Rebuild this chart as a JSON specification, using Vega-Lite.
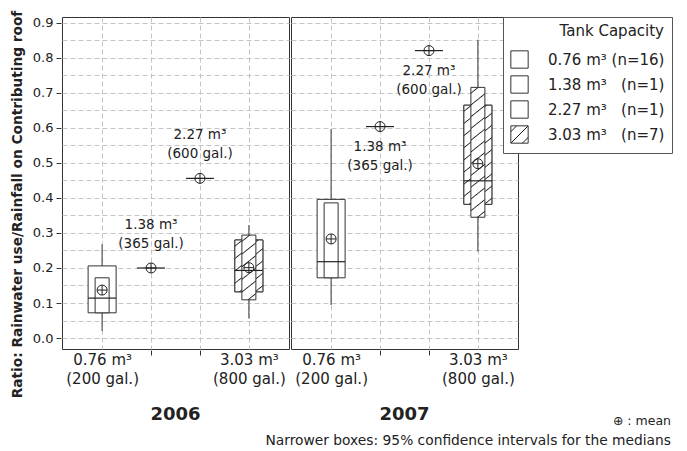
{
  "$schema": "https://vega.github.io/schema/vega-lite/v6.json",
  "padding": {"left": 10, "top": 10, "right": 0, "bottom": 0},
  "background": "white",
  "data": {"values": [
    {"year": "2006", "tank": "0.76", "lo": 0.02, "q1": 0.072, "med": 0.114, "q3": 0.206, "hi": 0.268, "cil": 0.072, "cih": 0.172, "mean": 0.137},
    {"year": "2006", "tank": "1.38", "med": 0.2, "mean": 0.2, "label": "1.38 m³\n(365 gal.)"},
    {"year": "2006", "tank": "2.27", "med": 0.456, "mean": 0.456, "label": "2.27 m³\n(600 gal.)"},
    {"year": "2006", "tank": "3.03", "lo": 0.056, "q1": 0.132, "med": 0.193, "q3": 0.28, "hi": 0.323, "cil": 0.109, "cih": 0.294, "mean": 0.201},
    {"year": "2007", "tank": "0.76", "lo": 0.094, "q1": 0.172, "med": 0.218, "q3": 0.396, "hi": 0.597, "cil": 0.172, "cih": 0.386, "mean": 0.283},
    {"year": "2007", "tank": "1.38", "med": 0.604, "mean": 0.604, "label": "1.38 m³\n(365 gal.)"},
    {"year": "2007", "tank": "2.27", "med": 0.821, "mean": 0.821, "label": "2.27 m³\n(600 gal.)"},
    {"year": "2007", "tank": "3.03", "lo": 0.247, "q1": 0.382, "med": 0.449, "q3": 0.665, "hi": 0.852, "cil": 0.345, "cih": 0.716, "mean": 0.498}
  ]},
  "facet": {"column": {"field": "year", "type": "nominal", "title": null,
    "header": {"labelOrient": "bottom", "labelFontSize": 18, "labelFontWeight": "bold", "labelFont": "DejaVu Sans", "labelColor": "#222", "labelPadding": 20}}},
  "spacing": 0,
  "title": {"text": "⊕ : mean", "subtitle": "Narrower boxes: 95% confidence intervals for the medians", "orient": "bottom", "anchor": "end", "frame": "group", "dx": 609, "offset": -9, "font": "DejaVu Sans", "fontSize": 12.5, "fontWeight": "normal", "color": "#222", "subtitleFont": "DejaVu Sans", "subtitleFontSize": 13.8, "subtitleColor": "#222", "subtitlePadding": 6},
  "spec": {
    "width": 227,
    "height": 332,
    "encoding": {
      "x": {"field": "tank", "type": "nominal", "title": null,
        "scale": {"type": "point", "padding": 0.82, "domain": ["0.76", "1.38", "2.27", "3.03"]},
        "axis": {"labelAngle": 0, "domain": false, "grid": true, "gridDash": [5, 3], "gridColor": "#c4c4c4",
          "tickColor": "#333", "tickSize": 5, "labelOverlap": false,
          "tickOpacity": {"condition": {"test": "datum.value == '1.38' || datum.value == '2.27'", "value": 1}, "value": 0},
          "labelExpr": "datum.value == '0.76' ? ['0.76 m³', '(200 gal.)'] : datum.value == '3.03' ? ['3.03 m³', '(800 gal.)'] : ''",
          "labelFontSize": 15, "labelColor": "#222", "labelLineHeight": 19, "labelPadding": -3, "labelFont": "DejaVu Sans"}}
    },
    "layer": [
      {"mark": {"type": "rule", "stroke": "#555", "strokeWidth": 1.2},
       "encoding": {
         "y": {"field": "lo", "type": "quantitative", "title": "Ratio: Rainwater use/Rainfall on Contributing roof",
           "scale": {"domain": [-0.0314, 0.917], "nice": false, "zero": false},
           "axis": {"values": [0, 0.05, 0.1, 0.15, 0.2, 0.25, 0.3, 0.35, 0.4, 0.45, 0.5, 0.55, 0.6, 0.65, 0.7, 0.75, 0.8, 0.85, 0.9],
             "tickCount": 100,
             "labelExpr": "round(datum.value*100) % 10 == 0 ? format(datum.value, '.1f') : ''",
             "labelOverlap": false,
             "domain": false, "grid": true, "gridDash": [5, 3], "gridColor": "#c4c4c4",
             "tickColor": "#333", "tickSize": 5,
             "tickOpacity": {"condition": {"test": "round(datum.value*100) % 10 != 0", "value": 0}, "value": 1},
             "labelFontSize": 13, "labelColor": "#222", "labelPadding": 3, "labelFont": "DejaVu Sans",
             "titleFont": "DejaVu Sans", "titleFontSize": 13.7, "titleFontWeight": "bold", "titleColor": "#222", "titlePadding": 8, "titleY": 187}},
         "y2": {"field": "hi"}
       }},
      {"mark": {"type": "bar", "width": 28, "stroke": "#333", "strokeWidth": 1},
       "encoding": {
         "y": {"field": "q1", "type": "quantitative", "title": "Ratio: Rainwater use/Rainfall on Contributing roof"},
         "y2": {"field": "q3"},
         "fill": {"field": "tank", "type": "nominal",
           "scale": {"domain": ["0.76", "1.38", "2.27", "3.03"],
             "range": ["white", "white", "white", {"expr": "{gradient: 'linear', x1: 0, y1: 0, x2: 1, y2: 1, stops: [{offset: 0.137, color: 'white'}, {offset: 0.167, color: '#222'}, {offset: 0.197, color: 'white'}, {offset: 0.47, color: 'white'}, {offset: 0.5, color: '#222'}, {offset: 0.53, color: 'white'}, {offset: 0.803, color: 'white'}, {offset: 0.833, color: '#222'}, {offset: 0.863, color: 'white'}]}"}]},
           "legend": {"title": "Tank Capacity", "orient": "none", "legendX": 441, "legendY": 0,
             "labelExpr": "datum.value == '0.76' ? '0.76 m³ (n=16)' : datum.value == '1.38' ? '1.38 m³\u00a0\u00a0\u00a0(n=1)' : datum.value == '2.27' ? '2.27 m³\u00a0\u00a0\u00a0(n=1)' : '3.03 m³\u00a0\u00a0\u00a0(n=7)'",
             "symbolType": "square", "symbolSize": 300, "symbolStrokeColor": "#333", "symbolStrokeWidth": 1,
             "strokeColor": "#555", "fillColor": "white", "padding": 7, "titleAnchor": "end",
             "rowPadding": 2, "labelFontSize": 15, "titleFontSize": 15, "titleFontWeight": "normal",
             "labelFont": "DejaVu Sans", "titleFont": "DejaVu Sans", "labelColor": "#222", "titleColor": "#222", "labelOffset": 19, "titlePadding": 11}}
       }},
      {"transform": [{"filter": "datum.tank == '3.03' && datum.year == '2006'"}],
       "mark": {"type": "bar", "width": 28, "stroke": "#333", "strokeWidth": 1,
         "fill": {"gradient": "linear", "x1": 0, "y1": 0, "x2": 0.52, "y2": 1.206, "stops": [
           {"offset": 0.068, "color": "white"}, {"offset": 0.0833, "color": "#222"}, {"offset": 0.098, "color": "white"},
           {"offset": 0.235, "color": "white"}, {"offset": 0.25, "color": "#222"}, {"offset": 0.265, "color": "white"},
           {"offset": 0.402, "color": "white"}, {"offset": 0.4167, "color": "#222"}, {"offset": 0.432, "color": "white"},
           {"offset": 0.568, "color": "white"}, {"offset": 0.5833, "color": "#222"}, {"offset": 0.598, "color": "white"},
           {"offset": 0.735, "color": "white"}, {"offset": 0.75, "color": "#222"}, {"offset": 0.765, "color": "white"},
           {"offset": 0.902, "color": "white"}, {"offset": 0.9167, "color": "#222"}, {"offset": 0.932, "color": "white"}]}},
       "encoding": {
         "y": {"field": "q1", "type": "quantitative", "title": "Ratio: Rainwater use/Rainfall on Contributing roof"},
         "y2": {"field": "q3"}
       }},
      {"transform": [{"filter": "datum.tank == '3.03' && datum.year == '2007'"}],
       "mark": {"type": "bar", "width": 28, "stroke": "#333", "strokeWidth": 1,
         "fill": {"gradient": "linear", "x1": 0, "y1": 0, "x2": 0.264, "y2": 1.1665, "stops": [
           {"offset": 0.041, "color": "white"}, {"offset": 0.05, "color": "#222"}, {"offset": 0.059, "color": "white"},
           {"offset": 0.141, "color": "white"}, {"offset": 0.15, "color": "#222"}, {"offset": 0.159, "color": "white"},
           {"offset": 0.241, "color": "white"}, {"offset": 0.25, "color": "#222"}, {"offset": 0.259, "color": "white"},
           {"offset": 0.341, "color": "white"}, {"offset": 0.35, "color": "#222"}, {"offset": 0.359, "color": "white"},
           {"offset": 0.441, "color": "white"}, {"offset": 0.45, "color": "#222"}, {"offset": 0.459, "color": "white"},
           {"offset": 0.541, "color": "white"}, {"offset": 0.55, "color": "#222"}, {"offset": 0.559, "color": "white"},
           {"offset": 0.641, "color": "white"}, {"offset": 0.65, "color": "#222"}, {"offset": 0.659, "color": "white"},
           {"offset": 0.741, "color": "white"}, {"offset": 0.75, "color": "#222"}, {"offset": 0.759, "color": "white"},
           {"offset": 0.841, "color": "white"}, {"offset": 0.85, "color": "#222"}, {"offset": 0.859, "color": "white"},
           {"offset": 0.941, "color": "white"}, {"offset": 0.95, "color": "#222"}, {"offset": 0.959, "color": "white"}]}},
       "encoding": {
         "y": {"field": "q1", "type": "quantitative", "title": "Ratio: Rainwater use/Rainfall on Contributing roof"},
         "y2": {"field": "q3"}
       }},
      {"transform": [{"filter": "datum.tank != '3.03'"}],
       "mark": {"type": "bar", "width": 14, "stroke": "#333", "strokeWidth": 1, "fill": "white"},
       "encoding": {
         "y": {"field": "cil", "type": "quantitative", "title": "Ratio: Rainwater use/Rainfall on Contributing roof"},
         "y2": {"field": "cih"}
       }},
      {"transform": [{"filter": "datum.tank == '3.03' && datum.year == '2006'"}],
       "mark": {"type": "bar", "width": 14, "stroke": "#333", "strokeWidth": 1,
         "fill": {"gradient": "linear", "x1": 0, "y1": 0, "x2": 0.197, "y2": 1.139, "stops": [
           {"offset": 0.068, "color": "white"}, {"offset": 0.0833, "color": "#222"}, {"offset": 0.098, "color": "white"},
           {"offset": 0.235, "color": "white"}, {"offset": 0.25, "color": "#222"}, {"offset": 0.265, "color": "white"},
           {"offset": 0.402, "color": "white"}, {"offset": 0.4167, "color": "#222"}, {"offset": 0.432, "color": "white"},
           {"offset": 0.568, "color": "white"}, {"offset": 0.5833, "color": "#222"}, {"offset": 0.598, "color": "white"},
           {"offset": 0.735, "color": "white"}, {"offset": 0.75, "color": "#222"}, {"offset": 0.765, "color": "white"},
           {"offset": 0.902, "color": "white"}, {"offset": 0.9167, "color": "#222"}, {"offset": 0.932, "color": "white"}]}},
       "encoding": {
         "y": {"field": "cil", "type": "quantitative", "title": "Ratio: Rainwater use/Rainfall on Contributing roof"},
         "y2": {"field": "cih"}
       }},
      {"transform": [{"filter": "datum.tank == '3.03' && datum.year == '2007'"}],
       "mark": {"type": "bar", "width": 14, "stroke": "#333", "strokeWidth": 1,
         "fill": {"gradient": "linear", "x1": 0, "y1": 0, "x2": 0.093, "y2": 1.078, "stops": [
           {"offset": 0.0337, "color": "white"}, {"offset": 0.0417, "color": "#222"}, {"offset": 0.0497, "color": "white"},
           {"offset": 0.117, "color": "white"}, {"offset": 0.125, "color": "#222"}, {"offset": 0.133, "color": "white"},
           {"offset": 0.2003, "color": "white"}, {"offset": 0.2083, "color": "#222"}, {"offset": 0.2163, "color": "white"},
           {"offset": 0.2837, "color": "white"}, {"offset": 0.2917, "color": "#222"}, {"offset": 0.2997, "color": "white"},
           {"offset": 0.367, "color": "white"}, {"offset": 0.375, "color": "#222"}, {"offset": 0.383, "color": "white"},
           {"offset": 0.4503, "color": "white"}, {"offset": 0.4583, "color": "#222"}, {"offset": 0.4663, "color": "white"},
           {"offset": 0.5337, "color": "white"}, {"offset": 0.5417, "color": "#222"}, {"offset": 0.5497, "color": "white"},
           {"offset": 0.617, "color": "white"}, {"offset": 0.625, "color": "#222"}, {"offset": 0.633, "color": "white"},
           {"offset": 0.7003, "color": "white"}, {"offset": 0.7083, "color": "#222"}, {"offset": 0.7163, "color": "white"},
           {"offset": 0.7837, "color": "white"}, {"offset": 0.7917, "color": "#222"}, {"offset": 0.7997, "color": "white"},
           {"offset": 0.867, "color": "white"}, {"offset": 0.875, "color": "#222"}, {"offset": 0.883, "color": "white"},
           {"offset": 0.9503, "color": "white"}, {"offset": 0.9583, "color": "#222"}, {"offset": 0.9663, "color": "white"}]}},
       "encoding": {
         "y": {"field": "cil", "type": "quantitative", "title": "Ratio: Rainwater use/Rainfall on Contributing roof"},
         "y2": {"field": "cih"}
       }},
      {"mark": {"type": "tick", "orient": "horizontal", "size": 28, "thickness": 1.2, "color": "#222", "opacity": 1},
       "encoding": {
         "y": {"field": "med", "type": "quantitative", "title": "Ratio: Rainwater use/Rainfall on Contributing roof"}
       }},
      {"mark": {"type": "point", "shape": "M-1,0A1,1,0,1,1,1,0A1,1,0,1,1,-1,0ZM-1,0L1,0M0,-1L0,1", "size": 100, "filled": false, "fill": null, "stroke": "#222", "strokeWidth": 1, "opacity": 1},
       "encoding": {
         "y": {"field": "mean", "type": "quantitative", "title": "Ratio: Rainwater use/Rainfall on Contributing roof"}
       }},
      {"transform": [{"filter": "datum.year == '2006' && datum.label"}],
       "mark": {"type": "text", "baseline": "bottom", "dy": -36, "lineBreak": "\n", "lineHeight": 19, "fontSize": 13.5, "font": "DejaVu Sans", "color": "#222"},
       "encoding": {
         "y": {"field": "med", "type": "quantitative", "title": "Ratio: Rainwater use/Rainfall on Contributing roof"},
         "text": {"field": "label"}
       }},
      {"transform": [{"filter": "datum.year == '2007' && datum.label"}],
       "mark": {"type": "text", "baseline": "top", "dy": 13, "lineBreak": "\n", "lineHeight": 19, "fontSize": 13.5, "font": "DejaVu Sans", "color": "#222"},
       "encoding": {
         "y": {"field": "med", "type": "quantitative", "title": "Ratio: Rainwater use/Rainfall on Contributing roof"},
         "text": {"field": "label"}
       }}
    ]
  },
  "config": {
    "font": "DejaVu Sans",
    "view": {"stroke": "#333", "strokeWidth": 1}
  }
}
